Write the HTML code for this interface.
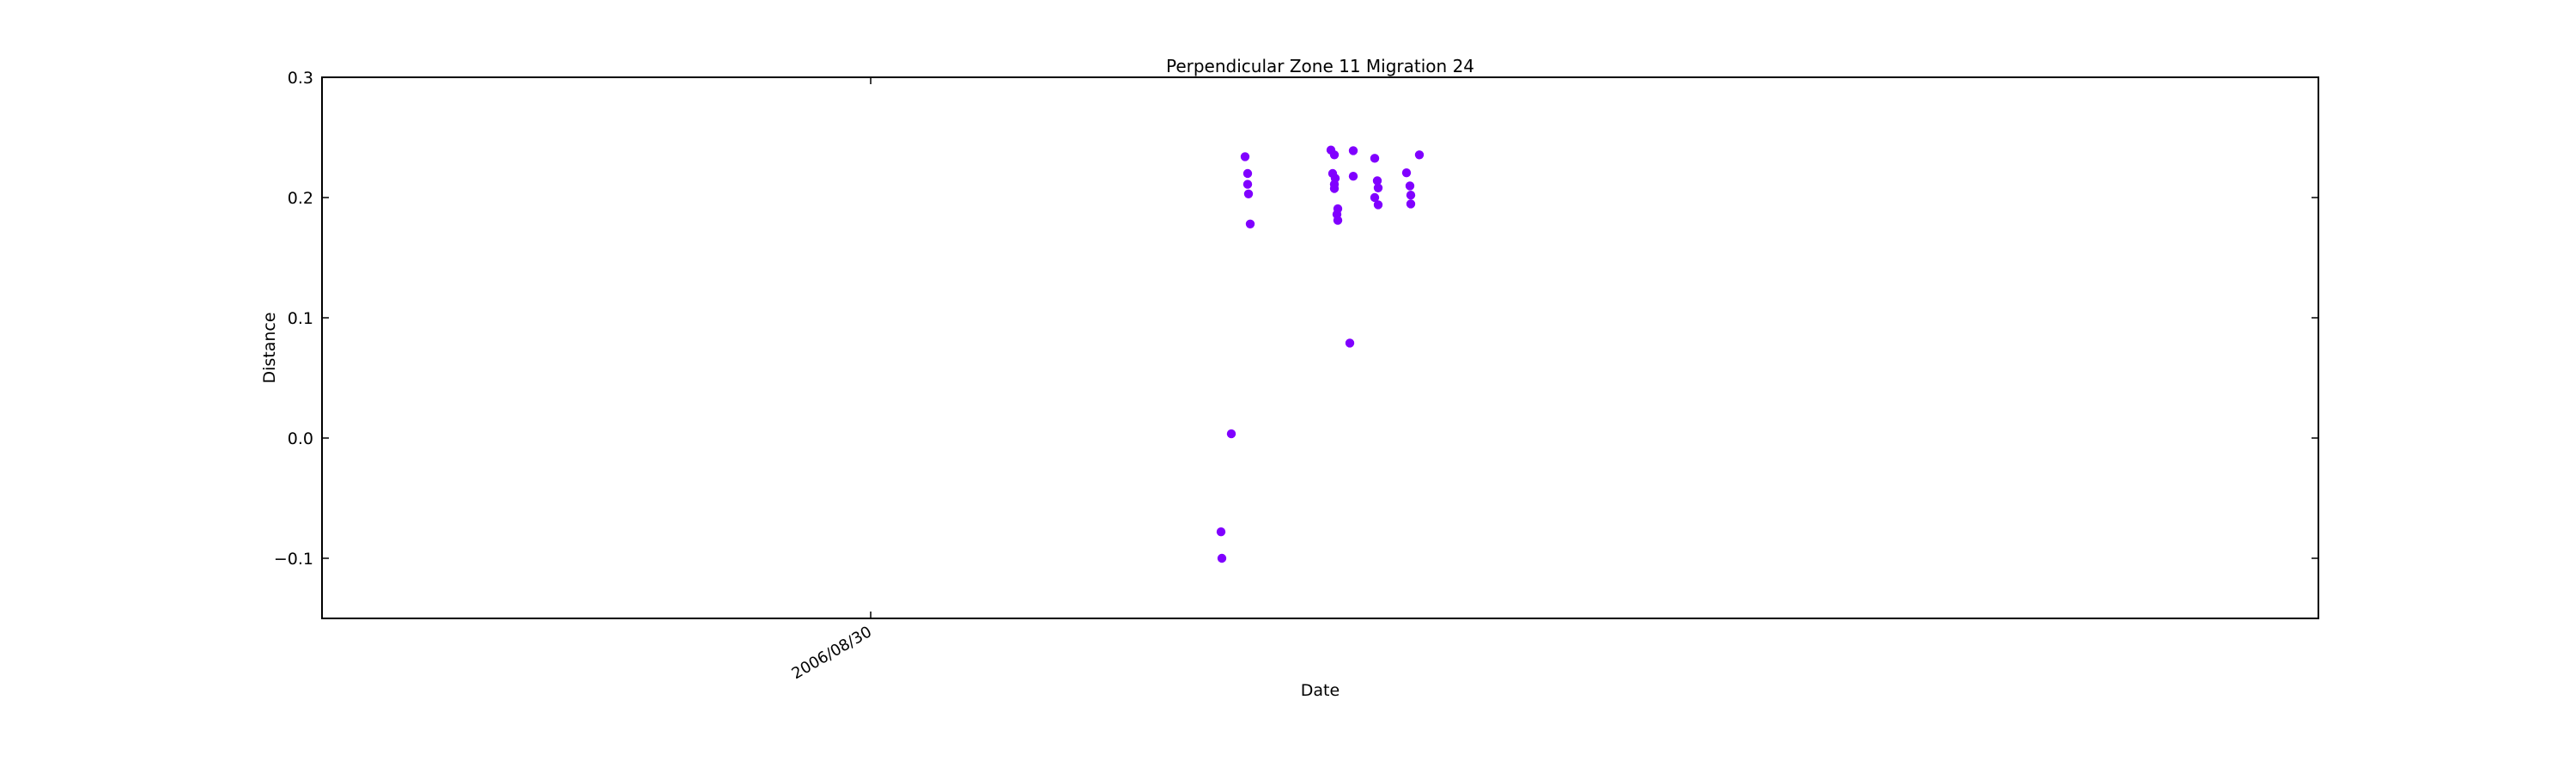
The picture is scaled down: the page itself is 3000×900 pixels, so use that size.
<!DOCTYPE html>
<html><head><meta charset="utf-8"><style>
html,body{margin:0;padding:0;background:#fff;}
svg{display:block;font-family:"DejaVu Sans","Liberation Sans",sans-serif;}
</style></head><body>
<svg id="chart" width="3000" height="900" viewBox="0 0 3000 900"></svg>
<script>
const xDates = [40.8,40.9,42.0,43.6,43.9,43.9,44.0,44.2,53.6,54.0,53.8,54.1,54.0,54.0,54.4,54.3,54.4,55.8,56.2,56.2,58.7,59.0,59.1,58.7,59.1,62.4,62.8,62.9,62.9,63.9];
const yDistance = [-0.078,-0.1,0.0035,0.234,0.22,0.211,0.203,0.178,0.2395,0.2355,0.22,0.216,0.211,0.2075,0.1907,0.186,0.181,0.079,0.239,0.2177,0.2326,0.214,0.208,0.2,0.194,0.2206,0.2097,0.202,0.1947,0.2355];
const yTicks = [-0.1,0.0,0.1,0.2,0.3];
const yTickLabels = ["\u22120.1","0.0","0.1","0.2","0.3"];
const xTicks = [0];
const xTickLabels = ["2006/08/30"];

const L=375,R=2700,T=90,B=720;
const xMin=-63.9,xMax=168.6,yMin=-0.15,yMax=0.3;
const sx=v=>L+(v-xMin)/(xMax-xMin)*(R-L);
const sy=v=>B-(v-yMin)/(yMax-yMin)*(B-T);
const NS="http://www.w3.org/2000/svg";
const svg=document.getElementById('chart');
function mk(tag,attrs,parent){const e=document.createElementNS(NS,tag);for(const k in attrs)e.setAttribute(k,attrs[k]);(parent||svg).appendChild(e);return e;}

const title=mk('text',{x:(L+R)/2,y:84,'text-anchor':'middle','font-size':'20'});
title.textContent='Perpendicular Zone 11 Migration 24';



const pts=mk('g',{});


xDates.forEach((d,i)=>{
  const c=mk('circle',{cx:sx(d),cy:sy(yDistance[i]),r:5.2,fill:'#8000ff'},pts);
  
  
});

const frame=mk('rect',{x:L,y:T,width:R-L,height:B-T,fill:'none',stroke:'#000','stroke-width':2});



yTicks.forEach((v,i)=>{
  const y=sy(v);
  mk('line',{x1:L,x2:L+8,y1:y,y2:y,stroke:'#000','stroke-width':1.5});
  mk('line',{x1:R,x2:R-8,y1:y,y2:y,stroke:'#000','stroke-width':1.5});
  const t=mk('text',{x:L-10,y:y+7,'text-anchor':'end','font-size':'19'});
  t.textContent=yTickLabels[i];
  
  
});
xTicks.forEach((v,i)=>{
  const x=sx(v);
  mk('line',{x1:x,x2:x,y1:B,y2:B-8,stroke:'#000','stroke-width':1.5});
  mk('line',{x1:x,x2:x,y1:T,y2:T+8,stroke:'#000','stroke-width':1.5});
  const t=mk('text',{x:x-4,y:B+8,'text-anchor':'end','font-size':'18',transform:`rotate(-30 ${x-4} ${B+8})`,'dominant-baseline':'hanging'});
  t.textContent=xTickLabels[i];
  
  
});

const xl=mk('text',{x:(L+R)/2,y:810,'text-anchor':'middle','font-size':'19'});
xl.textContent='Date';


const yl=mk('text',{x:320,y:(T+B)/2,'text-anchor':'middle','font-size':'19',transform:`rotate(-90 320 ${(T+B)/2})`});
yl.textContent='Distance';


</script>
</body></html>
